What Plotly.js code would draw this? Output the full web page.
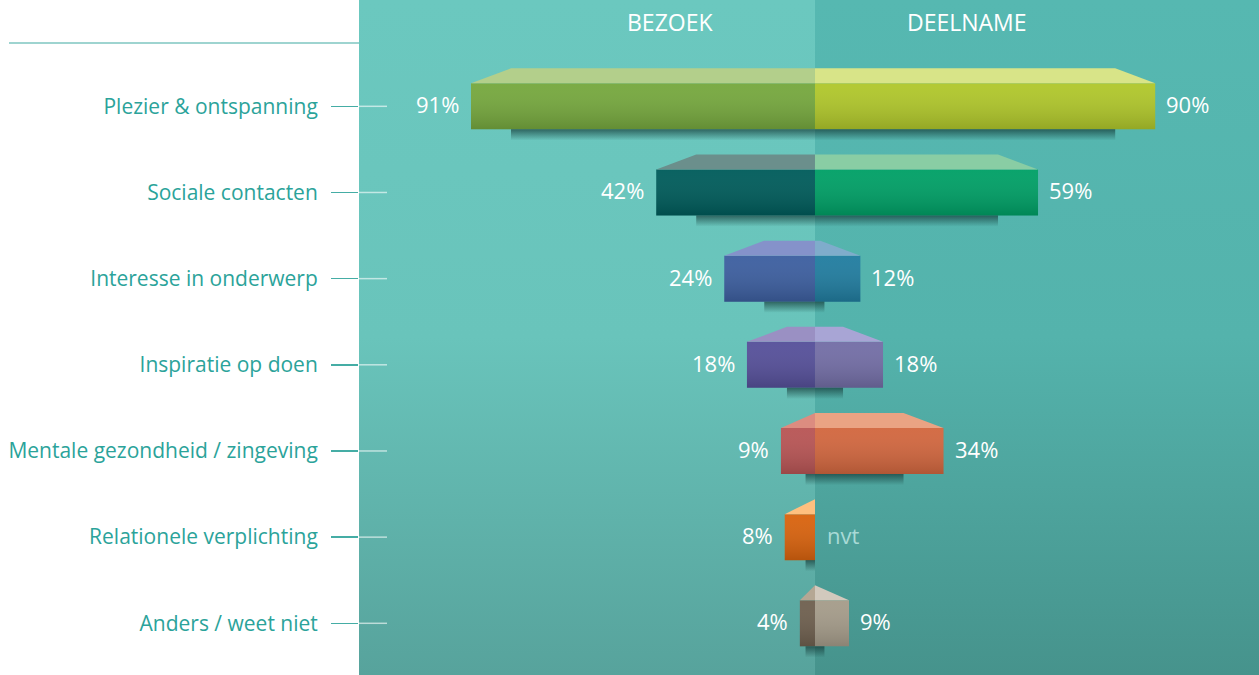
<!DOCTYPE html>
<html>
<head>
<meta charset="utf-8">
<script src="https://cdn.plot.ly/plotly-3.0.1.min.js"></script>
<style>html,body{margin:0;padding:0;background:#fff;}#chart{width:1259px;height:675px;}</style>
</head>
<body>
<div id="chart"></div>
<script>
// ---- data ----
const categories = [
  "Plezier & ontspanning",
  "Sociale contacten",
  "Interesse in onderwerp",
  "Inspiratie op doen",
  "Mentale gezondheid / zingeving",
  "Relationele verplichting",
  "Anders / weet niet"
];
const bezoek = [91, 42, 24, 18, 9, 8, 4];
const deelname = [90, 59, 12, 18, 34, null, 9];
const seriesNames = ["BEZOEK", "DEELNAME"];
const missingLabel = "nvt";

// ---- styles ----
const frontLeft  = ['#76A83E','#005C5B','#3D5FA0','#56509A','#B85555','#D9630E','#6F604F'];
const frontRight = ['#B0C72B','#00A066','#217DA0','#736EA6','#D2673F','#888888','#A59C8A'];
const topLeft    = ['#B3CF8B','#6B8F8C','#8592CA','#9A90C3','#DC8C80','#FFC07F','#B5A794'];
const topRight   = ['#D8E488','#89CDA4','#7FACCB','#A8A5D5','#EAA383','#cccccc','#D2C9BD'];
const FONT = '"Open Sans", sans-serif';

// ---- geometry (axis units) ----
const X_RANGE = [-120.63, 117.46];
const Y_RANGE = [6.600, -1.2338];
const BAR_W = 0.534, TOP_H = 0.174, INSET = 10.58, SHADOW_H = 0.13, MIN_SHADOW = 2.5;

const rows = categories.map((c, i) => i);
const traces = [];

// front faces (bars)
traces.push({
  type: 'bar', orientation: 'h', y: rows, x: bezoek.map(v => v == null ? null : -v),
  width: BAR_W, marker: {color: frontLeft, line: {width: 0}}, hoverinfo: 'skip', name: seriesNames[0]
});
traces.push({
  type: 'bar', orientation: 'h', y: rows, x: deelname,
  width: BAR_W, marker: {color: frontRight, line: {width: 0}}, hoverinfo: 'skip', name: seriesNames[1]
});

function poly(xs, ys, extra) {
  return Object.assign({
    type: 'scatter', mode: 'lines', x: xs.concat([xs[0]]), y: ys.concat([ys[0]]),
    fill: 'toself', line: {width: 0, color: 'rgba(0,0,0,0)'}, hoverinfo: 'skip', showlegend: false
  }, extra);
}

function addSide(vals, sign, topColors) {
  vals.forEach((v, i) => {
    if (v == null) return;
    const yt = i - BAR_W / 2, yb = i + BAR_W / 2, ytt = yt - TOP_H;
    const outer = sign * v;
    const inset = Math.min(INSET, v);
    // shading overlay on the front face
    traces.push(poly([outer, 0, 0, outer], [yt, yt, yb, yb], {
      fillgradient: {type: 'vertical', start: yt, stop: yb,
        colorscale: [[0, 'rgba(255,255,255,0.04)'], [1, 'rgba(0,0,0,0.16)']]}
    }));
    // top face
    traces.push(poly([outer, sign * (v - inset), 0, 0], [yt, ytt, ytt, yt], {fillcolor: topColors[i]}));
    // shadow
    const sw = Math.max(v - INSET, MIN_SHADOW);
    traces.push(poly([sign * sw, 0, 0, sign * sw], [yb, yb, yb + SHADOW_H, yb + SHADOW_H], {
      fillgradient: {type: 'vertical', start: yb, stop: yb + SHADOW_H,
        colorscale: [[0, 'rgba(15,50,48,0.65)'], [1, 'rgba(15,50,48,0)']]}
    }));
  });
}
addSide(bezoek, -1, topLeft);
addSide(deelname, 1, topRight);

// background gradient images
function gradSvg(c0, c1, c2) {
  const s = "<svg xmlns='http://www.w3.org/2000/svg' width='10' height='100' viewBox='0 0 10 100' preserveAspectRatio='none'>" +
    "<defs><linearGradient id='g' x1='0' y1='0' x2='0' y2='1'>" +
    "<stop offset='0' stop-color='" + c0 + "'/><stop offset='0.5' stop-color='" + c1 + "'/><stop offset='1' stop-color='" + c2 + "'/>" +
    "</linearGradient></defs><rect width='10' height='100' fill='url(#g)'/></svg>";
  return 'data:image/svg+xml;charset=utf-8,' + encodeURIComponent(s);
}

const VAL_SIZE = 22;
const annotations = [];
bezoek.forEach((v, i) => {
  if (v == null) return;
  annotations.push({x: -v, y: i, xref: 'x', yref: 'y', text: v + '%', showarrow: false,
    xanchor: 'right', xshift: -10, yshift: 2, font: {family: FONT, size: VAL_SIZE, color: '#ffffff'}});
});
deelname.forEach((v, i) => {
  if (v == null) {
    annotations.push({x: 0, y: i, xref: 'x', yref: 'y', text: missingLabel, showarrow: false,
      xanchor: 'left', xshift: 10, yshift: 2, font: {family: FONT, size: VAL_SIZE, color: '#A8DAD6'}});
    return;
  }
  annotations.push({x: v, y: i, xref: 'x', yref: 'y', text: v + '%', showarrow: false,
    xanchor: 'left', xshift: 9, yshift: 2, font: {family: FONT, size: VAL_SIZE, color: '#ffffff'}});
});
annotations.push({x: -38.4, y: 1 - 22 / 675, xref: 'x', yref: 'paper', text: seriesNames[0], showarrow: false,
  xanchor: 'center', yanchor: 'middle', font: {family: FONT, size: 23, color: '#ffffff'}});
annotations.push({x: 40.2, y: 1 - 22 / 675, xref: 'x', yref: 'paper', text: seriesNames[1], showarrow: false,
  xanchor: 'center', yanchor: 'middle', font: {family: FONT, size: 23, color: '#ffffff'}});

const shapes = [];
rows.forEach(i => {
  shapes.push({type: 'line', xref: 'paper', yref: 'y', x0: 0, x1: 28 / 900, y0: i, y1: i,
    line: {color: 'rgba(255,255,255,0.6)', width: 1.5}, layer: 'above'});
});
shapes.push({type: 'line', xref: 'paper', yref: 'paper', x0: (9 - 359) / 900, x1: 0, y0: 1 - 43 / 675, y1: 1 - 43 / 675,
  line: {color: '#3FA9A1', width: 1.2}});

const layout = {
  width: 1259, height: 675,
  margin: {l: 359, r: 0, t: 0, b: 0, pad: 0},
  paper_bgcolor: '#ffffff', plot_bgcolor: 'rgba(0,0,0,0)',
  showlegend: false, barmode: 'overlay',
  xaxis: {range: X_RANGE, showgrid: false, zeroline: false, showticklabels: false, ticks: '', fixedrange: true},
  yaxis: {range: Y_RANGE, showgrid: false, zeroline: false, tickmode: 'array', tickvals: rows, ticktext: categories,
    ticks: 'outside', ticklen: 27, tickwidth: 1.5, tickcolor: '#45ADA5', ticklabelstandoff: 9,
    tickfont: {family: FONT, size: 21, color: '#2BA39A'}, fixedrange: true},
  images: [
    {source: gradSvg('#6BC8BF', '#69C4BB', '#57A39C'), xref: 'x', yref: 'paper', x: X_RANGE[0], y: 1,
      sizex: -X_RANGE[0], sizey: 1, sizing: 'stretch', xanchor: 'left', yanchor: 'top', layer: 'below'},
    {source: gradSvg('#56B8B1', '#54B3AC', '#46938C'), xref: 'x', yref: 'paper', x: 0, y: 1,
      sizex: X_RANGE[1], sizey: 1, sizing: 'stretch', xanchor: 'left', yanchor: 'top', layer: 'below'}
  ],
  annotations: annotations,
  shapes: shapes
};

Plotly.newPlot('chart', traces, layout, {displayModeBar: false, staticPlot: true});
</script>
</body>
</html>
